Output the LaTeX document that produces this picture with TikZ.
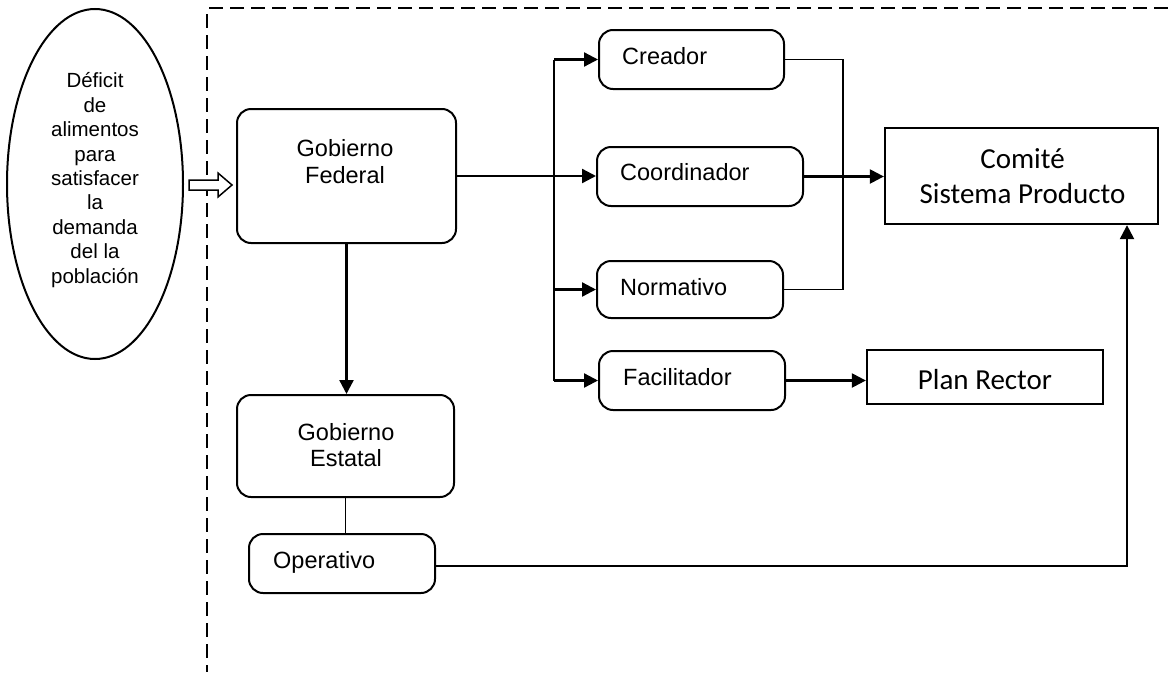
\documentclass[tikz,border=0pt]{standalone}
\usepackage{fontspec}
\setmainfont{Liberation Sans}
\newfontfamily\calibrifont{Carlito}
\usetikzlibrary{arrows.meta,shapes.geometric,calc}

\begin{document}
\begin{tikzpicture}[x=1pt,y=-1pt,
  rbox/.style={draw, line width=2pt, rounded corners=14pt, inner sep=0pt},
  sbox/.style={draw, line width=2.3pt, inner sep=0pt},
  lab/.style={inner sep=0pt, align=center, font=\fontsize{23.5}{26.5}\selectfont},
  lablt/.style={inner sep=0pt, anchor=base west, font=\fontsize{23.5}{26.5}\selectfont},
  clab/.style={inner sep=0pt, align=center, font=\calibrifont\fontsize{29}{35}\selectfont},
  conn/.style={line width=2.3pt, -{Triangle[length=14pt,width=14pt]}},
  plain/.style={line width=2.3pt},
  thin/.style={line width=1.7pt},
  frameline/.style={line width=1.8pt, dash pattern=on 14pt off 7pt}]

\useasboundingbox (0,0) rectangle (1174,672);

% dashed system boundary
\draw[frameline] (209,8) -- (1174,8);
\draw[frameline] (207,14) -- (207,672);

% the problem that feeds the system
\node[draw, ellipse, line width=2pt, inner sep=0pt, minimum width=176pt, minimum height=350pt] (ell) at (95,184) {};
\node[inner sep=0pt, align=center, font=\fontsize{20.5}{24.4}\selectfont] (elltxt) at (95,180)
  {Déficit\\de\\alimentos\\para\\satisfacer\\la\\demanda\\del la\\población};

% boxes
\node[rbox, minimum width=219pt, minimum height=134pt] (fed) at (346.5,176) {};
\node[rbox, minimum width=217pt, minimum height=102pt] (est) at (345.5,446) {};
\node[rbox, minimum width=186pt, minimum height=59pt] (op) at (342,563.5) {};
\node[rbox, minimum width=185pt, minimum height=59pt] (cre) at (691.5,59.5) {};
\node[rbox, minimum width=206pt, minimum height=59pt] (coo) at (700,176.5) {};
\node[rbox, minimum width=186pt, minimum height=57pt] (nor) at (690,289.5) {};
\node[rbox, minimum width=186pt, minimum height=59pt] (fac) at (692,380.5) {};
\node[sbox, minimum width=273pt, minimum height=96pt] (com) at (1021.5,176) {};
\node[sbox, minimum width=236pt, minimum height=54pt] (plan) at (985,377) {};

% box texts
\node[lab] (fedtxt) at (345,161.5) {Gobierno\\Federal};
\node[lab] (esttxt) at (346,445) {Gobierno\\Estatal};
\node[lablt] (optxt) at (273,568) {Operativo};
\node[lablt] (cretxt) at (622,64.5) {Creador};
\node[lablt] (cootxt) at (620,180.5) {Coordinador};
\node[lablt] (nortxt) at (620,295) {Normativo};
\node[lablt] (factxt) at (623,385) {Facilitador};
\node[clab] (comtxt) at (1022.5,176) {Comité\\Sistema Producto};
\node[inner sep=0pt, anchor=base, font=\calibrifont\fontsize{29}{35}\selectfont] (plantxt) at (985,389) {Plan Rector};

% hollow input arrow
\coordinate (ha) at (189,185);
\draw[line width=1.5pt, fill=white] (ha) ++(0,-5) -- ++(29,0) -- ++(0,-7) -- ++(14,12) -- ++(-14,12) -- ++(0,-7) -- ++(-29,0) -- cycle;

% connectors
\draw[conn] (fed.south) -- (fed.south |- est.north);
\draw[thin] (est.south) -- (est.south |- op.north);

\coordinate (opturn) at (1127,566);
\draw[conn] (op.east |- opturn) -- (opturn) -- (opturn |- com.south);

\draw[conn] (fed.east) -- (fed.east -| coo.west);

\coordinate (br) at (554,0);
\draw[plain] (br |- cre.west) -- (br |- fac.west);
\draw[conn] (br |- cre.west) -- (cre.west);
\draw[conn] (br |- nor.west) -- (nor.west);
\draw[conn] (br |- fac.west) -- (fac.west);

\coordinate (jn) at (843,0);
\draw[thin] (cre.east) -- (cre.east -| jn) -- (nor.east -| jn) -- (nor.east);

\draw[conn] (coo.east) -- (coo.east -| com.west);
\draw[conn] (fac.east) -- (fac.east -| plan.west);
\end{tikzpicture}
\end{document}
